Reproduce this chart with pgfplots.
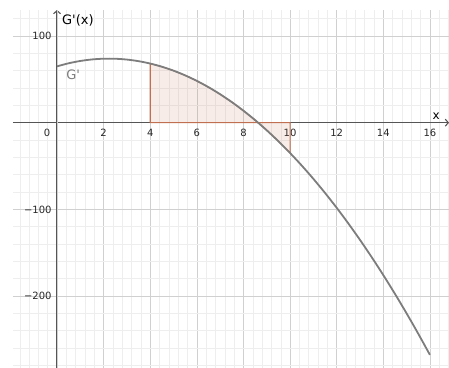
\documentclass[border=0pt]{standalone}
\usepackage{fontspec}
\setmainfont{DejaVu Sans}
\newfontfamily\plainfont{DejaVu Sans}
\usepackage{pgfplots}
\pgfplotsset{compat=1.18}
\usetikzlibrary{arrows.meta}

\definecolor{curvegray}{RGB}{125,125,125}
\definecolor{axisgray}{RGB}{85,85,85}
\definecolor{regionbrown}{RGB}{192,112,80}
\definecolor{majorgrid}{RGB}{208,208,208}
\definecolor{minorgrid}{RGB}{238,238,238}

\begin{document}
\begin{tikzpicture}
\begin{axis}[
    scale only axis,
    width=436pt, height=358pt,
    xmin=-1.89, xmax=16.82,
    ymin=-283, ymax=130,
    axis lines=middle,
    axis line style={axisgray, line width=1.1pt},
    x axis line style={-{Straight Barb[length=3pt,width=7pt]}},
    y axis line style={-{Straight Barb[length=3pt,width=7pt]}},
    hide obscured x ticks=false,
    hide obscured y ticks=false,
    major tick length=0pt,
    minor tick length=0pt,
    xtick={2,4,...,16},
    extra x ticks={0},
    extra x tick labels={0},
    extra x tick style={xticklabel style={xshift=-10pt}},
    ytick={-200,-100,100},
    yticklabels={−200,−100,100},
    minor xtick={-1.6,-1.2,...,16.8},
    minor ytick={-280,-260,...,120},
    grid=both,
    major grid style={majorgrid, line width=0.7pt},
    minor grid style={minorgrid, line width=0.5pt},
    xticklabel style={font=\plainfont\fontsize{10}{11}\selectfont, text=black!85, yshift=-3pt},
    yticklabel style={font=\plainfont\fontsize{10}{11}\selectfont, text=black!85, xshift=-2pt},
    /pgf/number format/assume math mode=true,
    clip=false,
]

% shaded region between x=4 and x=10
\addplot[draw=regionbrown, line width=1.1pt, fill=regionbrown, fill opacity=0.13] coordinates {
    (4,68.2) (4.5,64.55) (5,60) (5.5,54.55) (6,48.2) (6.5,40.95) (7,32.8)
    (7.5,23.75) (8,13.8) (8.5,2.95) (9,-8.8) (9.5,-21.45) (10,-35)
} \closedcycle;

% G'
\addplot[curvegray, line width=1.8pt, smooth] coordinates {
    (0,65) (0.5,68.55) (1,71.2) (1.5,72.95) (2,73.8) (2.5,73.75) (3,72.8)
    (3.5,70.95) (4,68.2) (4.5,64.55) (5,60) (5.5,54.55) (6,48.2) (6.5,40.95)
    (7,32.8) (7.5,23.75) (8,13.8) (8.5,2.95) (9,-8.8) (9.5,-21.45) (10,-35)
    (10.5,-49.45) (11,-64.8) (11.5,-81.05) (12,-98.2) (12.5,-116.25)
    (13,-135.2) (13.5,-155.05) (14,-175.8) (14.5,-197.45) (15,-220)
    (15.5,-243.45) (16,-267.8)
};

\node[font=\plainfont\fontsize{13}{14}\selectfont, anchor=west, inner sep=0pt] at (axis cs:0.21,118.5) {G'(x)};
\node[font=\plainfont\fontsize{12}{13}\selectfont, inner sep=0pt] at (axis cs:16.27,8) {x};
\node[font=\plainfont\fontsize{13}{14}\selectfont, text=curvegray, inner sep=0pt] at (axis cs:0.69,55) {G'};
\end{axis}
\pgfresetboundingbox
\path ([xshift=-13pt]current axis.south west) rectangle ([yshift=10pt]current axis.north east);
\end{tikzpicture}
\end{document}
